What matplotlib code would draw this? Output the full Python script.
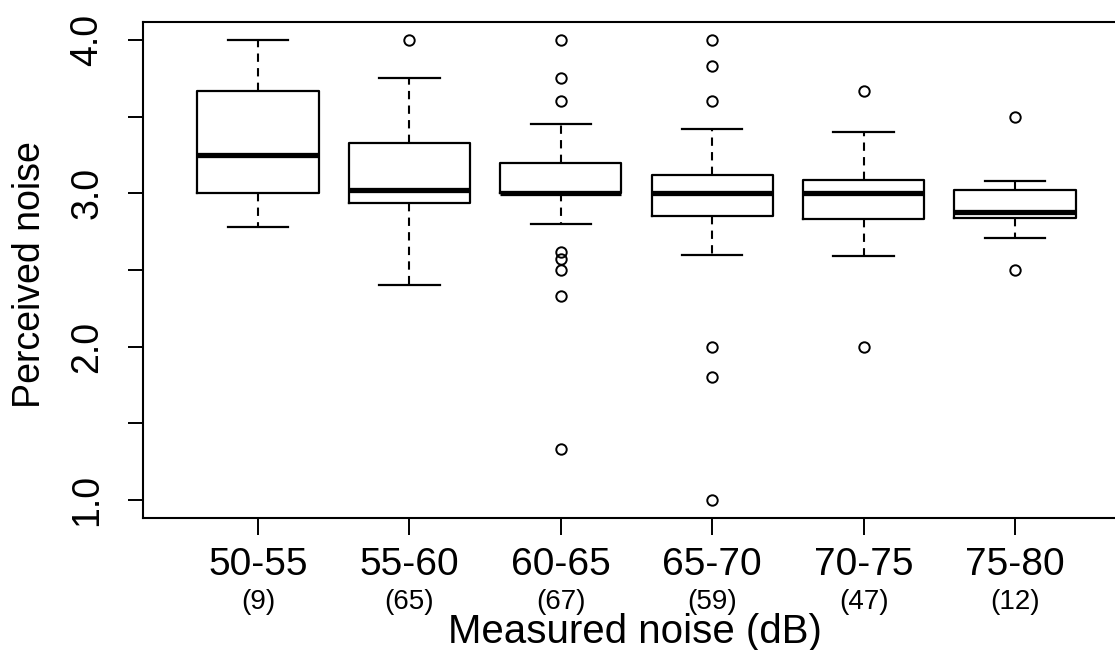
import matplotlib
matplotlib.use("Agg")
import matplotlib.pyplot as plt
import matplotlib.transforms as mtransforms

plt.rcParams['font.family'] = ['Liberation Sans', 'DejaVu Sans']

categories = ["50-55", "55-60", "60-65", "65-70", "70-75", "75-80"]
counts = ["(9)", "(65)", "(67)", "(59)", "(47)", "(12)"]
whisker_low = [2.78, 2.40, 2.80, 2.60, 2.59, 2.71]
q1 = [3.00, 2.94, 3.00, 2.85, 2.83, 2.84]
medians = [3.25, 3.02, 3.00, 3.00, 3.00, 2.88]
q3 = [3.67, 3.33, 3.20, 3.12, 3.09, 3.02]
whisker_high = [4.00, 3.75, 3.45, 3.42, 3.40, 3.08]
outliers = [
    [],
    [4.00],
    [4.00, 3.75, 3.60, 2.62, 2.57, 2.50, 2.33, 1.33],
    [4.00, 3.83, 3.60, 2.00, 1.80, 1.00],
    [3.67, 2.00],
    [3.50, 2.50],
]
yticks = [1.0, 2.0, 3.0, 4.0]
yminor = [1.5, 2.5, 3.5]

stats = []
for i in range(len(categories)):
    stats.append(dict(whislo=whisker_low[i], q1=q1[i], med=medians[i],
                      q3=q3[i], whishi=whisker_high[i], fliers=outliers[i],
                      label=categories[i]))

fig = plt.figure(figsize=(11.15, 6.5), dpi=100)
ax = fig.add_axes([143/1115, 1-518/650, (1127-143)/1115, (518-22)/650])

positions = list(range(1, len(categories) + 1))
ax.bxp(stats, positions=positions, widths=0.8, capwidths=0.4,
       showfliers=True, patch_artist=False,
       boxprops=dict(color='black', linewidth=1.6),
       medianprops=dict(color='black', linewidth=3.8, solid_capstyle='butt'),
       whiskerprops=dict(color='black', linewidth=1.5, linestyle=(0, (4, 3))),
       capprops=dict(color='black', linewidth=1.6),
       flierprops=dict(marker='o', markerfacecolor='none', markeredgecolor='black',
                       markersize=7.5, markeredgewidth=1.4, linestyle='none'))

ax.set_xlim(0.24, 6.74)
ax.set_ylim(0.882, 4.118)

ax.set_yticks(yticks + yminor)
ax.set_yticklabels(["%.1f" % v for v in yticks] + [""] * len(yminor),
                   rotation=90, va='center')
ax.tick_params(axis='y', length=11, width=1.4, pad=16, labelsize=27)
ax.set_xticks(positions)
ax.set_xticklabels(categories)
ax.tick_params(axis='x', length=12, width=1.4, pad=9, labelsize=28)

for s in ax.spines.values():
    s.set_linewidth(1.5)
    s.set_color('black')

trans = mtransforms.blended_transform_factory(ax.transData, fig.transFigure)
for p, c in zip(positions, counts):
    ax.text(p, 1 - 602/650, c, transform=trans, ha='center', va='center',
            fontsize=20)

fig.text((143 + 1127) / 2 / 1115, 1 - 632/650, "Measured noise (dB)",
         ha='center', va='center', fontsize=29)
fig.text(30/1115, 1 - 275/650, "Perceived noise", rotation=90,
         ha='center', va='center', fontsize=27)

fig.savefig("out.png", dpi=100)
